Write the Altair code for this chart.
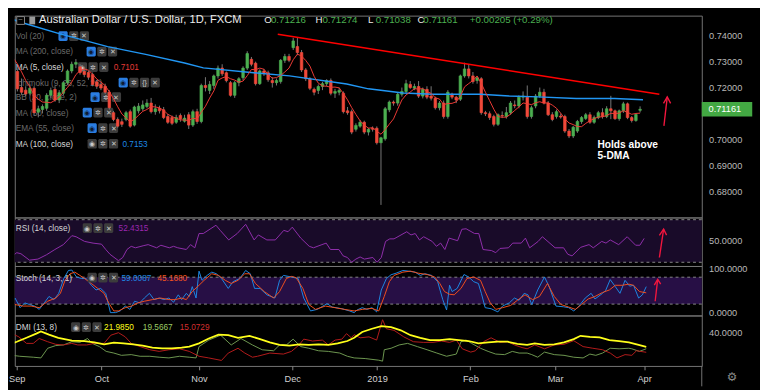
import altair as alt
import pandas as pd

FONT = "Liberation Sans"

# ---------------- price bars (bar index 0 = first bar of Sep) ----------------
bar_index = list(range(-5, 149))
bar_open = [.7330, .7335, .7340, .7300, .7262,
    .7200, .7190, .7178, .7197, .7105, .7115, .7120, .7170, .7193, .7152,
    .7178, .7219, .7264, .7290, .7280, .7262, .7258, .7250, .7222, .7212,
    .7205, .7182, .7103, .7077, .7068, .7077, .7107, .7055, .7110, .7118,
    .7127, .7140, .7107, .7120, .7114, .7088, .7084, .7066, .7092, .7070,
    .7095, .7055, .7107, .7069, .7208, .7189, .7208, .7245, .7275, .7257,
    .7219, .7170, .7219, .7238, .7275, .7309, .7294, .7215, .7264, .7257,
    .7227, .7219, .7223, .7305, .7320, .7354, .7358, .7335, .7268, .7234,
    .7193, .7189, .7204, .7215, .7227, .7178, .7182, .7178, .7110, .7107,
    .7039, .7051, .7066, .7028, .7043, .7043, .6987, .7002, .7114, .7144,
    .7140, .7174, .7185, .7212, .7197, .7204, .7167, .7193, .7167, .7159,
    .7122, .7140, .7088, .7174, .7163, .7155, .7245, .7272, .7245, .7227,
    .7234, .7103, .7099, .7088, .7058, .7092, .7088, .7103, .7133, .7129,
    .7163, .7163, .7088, .7129, .7167, .7182, .7140, .7095, .7088, .7090,
    .7088, .7032, .7013, .7032, .7069, .7081, .7095, .7066, .7084, .7103,
    .7088, .7118, .7110, .7080, .7110, .7137, .7084, .7073, .7112]
bar_high = [.7345, .7350, .7345, .7325, .7270,
    .7235, .7205, .7212, .7205, .7130, .7135, .7178, .7200, .7205, .7190,
    .7225, .7270, .7300, .7310, .7290, .7270, .7265, .7258, .7230, .7220,
    .7215, .7190, .7110, .7085, .7080, .7110, .7115, .7130, .7140, .7150,
    .7155, .7160, .7135, .7130, .7125, .7098, .7092, .7095, .7100, .7095,
    .7105, .7115, .7118, .7215, .7240, .7225, .7250, .7285, .7290, .7262,
    .7225, .7225, .7240, .7282, .7340, .7318, .7300, .7270, .7272, .7265,
    .7240, .7235, .7310, .7330, .7330, .7392, .7395, .7345, .7275, .7240,
    .7200, .7212, .7222, .7232, .7235, .7195, .7200, .7185, .7125, .7115,
    .7062, .7075, .7072, .7045, .7050, .7050, .7010, .7125, .7150, .7150,
    .7180, .7200, .7230, .7225, .7215, .7225, .7200, .7205, .7205, .7165,
    .7148, .7150, .7190, .7180, .7168, .7250, .7296, .7290, .7260, .7245,
    .7240, .7110, .7108, .7095, .7100, .7108, .7125, .7148, .7150, .7170,
    .7185, .7208, .7130, .7175, .7200, .7195, .7148, .7105, .7115, .7100,
    .7095, .7040, .7052, .7075, .7090, .7102, .7105, .7092, .7110, .7120,
    .7128, .7168, .7115, .7115, .7145, .7142, .7090, .7100, .71274]
bar_low = [.7320, .7325, .7310, .7258, .7185,
    .7172, .7165, .7170, .7095, .7085, .7100, .7110, .7160, .7145, .7140,
    .7170, .7210, .7255, .7275, .7250, .7240, .7230, .7205, .7195, .7190,
    .7175, .7115, .7070, .7045, .7048, .7070, .7045, .7050, .7100, .7110,
    .7120, .7100, .7095, .7100, .7078, .7060, .7055, .7060, .7068, .7065,
    .7040, .7048, .7060, .7062, .7185, .7175, .7195, .7235, .7245, .7220,
    .7165, .7160, .7205, .7228, .7268, .7282, .7208, .7210, .7245, .7222,
    .7200, .7208, .7215, .7295, .7298, .7345, .7325, .7260, .7225, .7190,
    .7170, .7175, .7190, .7205, .7170, .7160, .7170, .7100, .7095, .7020,
    .7030, .7045, .7020, .7015, .7030, .6980, .6747, .6995, .7105, .7130,
    .7130, .7165, .7178, .7195, .7190, .7160, .7158, .7155, .7150, .7115,
    .7112, .7080, .7080, .7155, .7140, .7148, .7238, .7235, .7215, .7215,
    .7095, .7090, .7075, .7050, .7052, .7082, .7080, .7095, .7120, .7120,
    .7150, .7080, .7080, .7120, .7160, .7135, .7090, .7070, .7080, .7080,
    .7025, .7005, .7005, .7025, .7060, .7075, .7060, .7060, .7078, .7080,
    .7082, .7078, .7075, .7072, .7102, .7078, .7065, .7068, .71038]
bar_close = [.7335, .7340, .7320, .7265, .7195,
    .7182, .7175, .7197, .7103, .7118, .7127, .7170, .7189, .7152, .7180,
    .7219, .7264, .7290, .7297, .7258, .7250, .7240, .7212, .7205, .7198,
    .7182, .7122, .7077, .7051, .7058, .7103, .7051, .7125, .7128, .7133,
    .7140, .7107, .7118, .7110, .7084, .7066, .7062, .7084, .7080, .7082,
    .7055, .7107, .7069, .7208, .7200, .7212, .7245, .7275, .7253, .7227,
    .7170, .7219, .7234, .7275, .7331, .7290, .7215, .7264, .7253, .7230,
    .7219, .7227, .7305, .7320, .7305, .7380, .7335, .7268, .7234, .7197,
    .7182, .7204, .7215, .7227, .7178, .7185, .7189, .7107, .7103, .7028,
    .7054, .7066, .7028, .7039, .7039, .6987, .7006, .7118, .7144, .7140,
    .7174, .7185, .7215, .7200, .7204, .7167, .7193, .7163, .7159, .7122,
    .7140, .7088, .7182, .7163, .7152, .7245, .7272, .7245, .7223, .7238,
    .7103, .7099, .7084, .7058, .7095, .7090, .7103, .7140, .7130, .7163,
    .7167, .7088, .7122, .7167, .7182, .7140, .7095, .7077, .7107, .7086,
    .7032, .7013, .7047, .7069, .7084, .7095, .7066, .7084, .7103, .7088,
    .7118, .7110, .7080, .7110, .7137, .7084, .7073, .7096, .71161]

# 100-day MA
ma100_x = [-2.3, 0, 9.2, 20.6, 29.7, 39, 43.5, 54.9, 64.1, 77.8, 83, 91.3, 98.4, 109.8, 116.7, 123.6, 132.7, 141.9, 148.7]
ma100_v = [.7464, .7451, .7407, .7358, .7328, .7295, .7276, .7258, .7245, .7214, .7195, .7179, .7174, .7174, .7167, .7164, .7158, .7158, .7153]

# RSI (14)
rsi_x = [-2, -1, 0, 1, 3, 5, 7, 9, 11, 13, 14, 16, 18, 20, 21, 22, 24, 25, 26, 27, 28, 30, 31, 33, 34, 36, 37, 38, 40, 41,
         42, 43, 44, 47, 48, 50, 52, 54, 56, 57, 59, 61, 63, 64, 65, 67, 69, 70, 72, 73, 74, 76, 77, 78, 79, 80, 81, 82, 84, 85,
         86, 87, 88, 89, 92, 93, 94, 95, 96, 98, 99, 100, 101, 102, 104, 105, 106, 108, 109, 110, 112, 113, 114, 116, 117, 119, 120, 121, 123, 124,
         127, 129, 130, 131, 133, 135, 136, 138, 139, 140, 142, 144, 146, 147, 148]
rsi_v = [39, 36, 39, 38, 32, 33, 37, 42, 46.6, 55, 54, 49.6, 48, 47, 42, 37.5, 31.5, 34.5, 42, 45, 43.6, 45.7, 46.6, 43.6, 46, 43.6, 45, 43.6, 42, 46.6,
         43.6, 57, 57, 64.8, 60, 51, 57, 65.7, 51, 55.7, 51, 51, 60, 58.7, 63, 52.7, 45, 43.6, 46.6, 48, 42, 42, 36, 34.5, 30, 33, 35, 33, 34.5, 30,
         34.5, 49.6, 52, 52, 58.7, 55.7, 57, 51, 54, 49.6, 45, 48, 42, 52.7, 50.3, 61, 61.5, 57, 57, 42, 41, 39, 43, 43.6, 48, 48, 52.7, 43.6, 49.6, 54,
         43.6, 43.6, 37.5, 36, 44, 46.6, 43.6, 49.6, 48, 51, 46.6, 54, 46, 46, 52.43]

# Stochastic (14, 3, 1): %K and %D
stk_x = [-2.3, -1.4, -0.4, 0.8, 1.9, 3.0, 4.2, 5.3, 6.5, 7.6, 8.8, 9.9, 11.1, 12.2, 13.0, 14.1, 15.3, 16.4, 17.6, 18.7,
         19.8, 21.0, 22.1, 23.3, 24.4, 25.6, 26.7, 27.8, 29.0, 30.1, 31.3, 32.4, 33.6, 34.7, 35.9, 37.0, 38.1, 38.9, 40.0, 40.7,
         41.4, 42.3, 43.0, 43.7, 44.9, 46.0, 47.1, 48.3, 49.9, 51.0, 52.6, 54.0, 55.1, 56.1, 57.4, 59.0, 60.9, 62.0, 62.9, 64.8,
         66.4, 67.7, 69.3, 70.9, 73.2, 74.4, 76.7, 78.5, 79.6, 80.3, 81.5, 82.6, 83.8, 84.9, 86.0, 87.2, 88.3, 89.5, 91.1, 92.4,
         94.0, 95.2, 96.3, 97.9, 99.3, 100.5, 101.4, 102.1, 102.7, 103.9, 105.5, 106.6, 107.8, 108.9, 109.6, 110.5, 111.9, 113.5, 114.6, 116.2,
         117.4, 118.5, 119.7, 120.6, 121.5, 122.9, 124.5, 125.6, 127.2, 129.0, 130.2, 131.4, 132.5, 134.1, 135.5, 136.4, 138.2, 138.9, 140.0, 141.2,
         142.3, 143.5, 144.6, 145.5, 146.7, 147.6, 148.5]
stk_v = [44, 19, 33.5, 12, 22.7, 19, 15.6, 8.2, 22.7, 37, 30, 44, 77, 95, 96, 80.5, 77, 77, 62, 51.5,
         55, 44, 1, 1, 4.8, 15.6, 8.2, 26.4, 22.7, 33.5, 44, 30, 33.5, 30, 33.5, 24.2, 40.7, 30, 44, 37,
         59, 33.5, 93.5, 73, 84, 91.3, 87.7, 77, 55, 70, 77, 95, 87.7, 55, 55, 40.7, 33.5, 73, 84, 80.5,
         77, 33.5, 4.8, 8.2, 21, 13.4, 9.7, 4.8, 1, 7, 12, 8.2, 12, 2.6, 51.5, 77, 85.5, 89, 95, 93.5,
         91.3, 84, 87.7, 84, 70, 30, 7, 62, 48, 55, 86, 80.5, 70, 66, 44, 12, 9.7, 2.6, 15.6, 22.7,
         33.5, 28.5, 44, 40.7, 19, 51.5, 80.5, 59, 15.6, 14, 12, 4.8, 14, 33.5, 44, 31.4, 44, 50, 74.7, 59,
         44, 73, 60, 62, 33.5, 40.7, 59]
std_x = [-2.3, -0.4, 1.5, 3.4, 5.3, 7.3, 9.2, 10.3, 11.4, 12.6, 13.7, 14.9, 16.0, 17.6, 19.1, 20.6, 21.7, 22.9, 24.0, 25.6,
         27.1, 28.6, 30.1, 32.0, 33.9, 35.9, 37.4, 38.9, 40.0, 41.4, 43.0, 44.2, 46.0, 47.6, 49.2, 50.6, 52.2, 53.8, 54.9, 56.3,
         58.4, 60.6, 62.0, 63.6, 64.8, 65.9, 67.5, 68.9, 70.5, 72.8, 75.1, 77.3, 79.6, 81.5, 83.8, 85.4, 86.7, 87.9, 89.0, 91.1,
         92.9, 94.7, 96.8, 98.6, 99.8, 100.9, 102.1, 103.2, 104.8, 106.2, 107.8, 109.4, 110.5, 111.7, 113.0, 114.6, 116.5, 118.1, 119.9, 121.7,
         123.3, 125.2, 126.8, 128.4, 130.2, 131.8, 133.2, 134.8, 136.4, 138.2, 139.8, 141.2, 142.8, 144.4, 145.5, 146.9, 148.5]
std_v = [37, 19, 15.6, 15.6, 12, 26.4, 33.5, 44, 73, 87.7, 91.3, 84, 77, 66, 55, 44, 22.7, 4.8, 4.8, 12,
         15.6, 22.7, 26.4, 30, 33.5, 30, 30, 33.5, 30, 48, 62, 73, 87.7, 84, 73, 66, 73, 87.7, 87.7, 66,
         48, 33.5, 48, 77, 81.8, 79, 55, 19, 8.2, 15.6, 12, 8.2, 4.8, 8.2, 10.4, 4.8, 37, 70, 84, 91.3,
         93.5, 89, 86, 80.5, 66, 48, 42, 40.7, 55, 77, 80.5, 73, 48, 22.7, 8.2, 12, 17, 28.5, 40.7, 30,
         37, 66, 37, 19, 13.4, 8.2, 19, 31.4, 37, 46, 51.5, 62, 62, 64.5, 62, 48, 45.17]

# DMI (13, 8): ADX, +DI, -DI
adx_x = [-2.3, 0, 2.3, 4.6, 5.7, 7.6, 9.8, 13, 16, 18.3, 20.6, 22.9, 25.2, 27.5, 29.7, 32, 34.3, 36.6, 38.9, 40.7,
         43, 45.3, 47.6, 49.9, 52.2, 54.9, 57.4, 59.7, 62, 64.3, 66.6, 68.9, 71.2, 73.5, 75.7, 78, 79.6, 81.5, 83.8, 86,
         88.3, 90.6, 92.9, 95.2, 97.5, 99.8, 102.1, 104.3, 106.6, 108.9, 111.2, 113.5, 115.8, 118.1, 120.4, 122.2, 124.5, 126.8, 129.1, 131.4,
         133, 135.2, 137.5, 139.8, 142.1, 144.4, 146.7, 148.5]
adx_v = [24, 28.5, 33.5, 38.8, 41.7, 37.5, 33.5, 29.8, 29.4, 27.7, 25.2, 27.3, 26.4, 25.2, 23.6, 21.1, 20.2, 20.2, 21.1, 22.3,
         26.4, 32.6, 37.5, 36.8, 33.5, 36, 31.8, 27.7, 24.4, 23.6, 25.2, 24.4, 25.2, 24.4, 26.4, 29.4, 33.5, 40.9, 45, 48.3,
         47, 43, 36.8, 33.5, 30.6, 30.6, 31.8, 30.6, 29.4, 26.4, 27.7, 28.5, 28.5, 25.7, 24.4, 26.4, 24.4, 25.2, 27.7, 31.8,
         36, 34.7, 33.9, 30.6, 29.4, 27.7, 24.4, 21.985]
mdi_x = [-2.3, -1.1, 0.5, 2.3, 3.9, 5.3, 7.3, 9.2, 11, 13, 14.4, 16.5, 18.3, 20.6, 22.2, 24, 25.6, 27, 29.1, 31.4,
         33.6, 35.9, 38.4, 40.7, 43, 45.3, 48.3, 49.9, 52.2, 53.8, 55.6, 56.8, 59.7, 62.9, 64.8, 66.6, 67.7, 69.8, 72.1, 73.5,
         75.1, 76.7, 77.8, 78.9, 79.6, 81, 83.1, 84.9, 86.3, 87.2, 89, 91.3, 93.6, 95.9, 98.2, 100.2, 102.1, 103.7, 105.1, 107.1,
         108.2, 110.1, 111.9, 114, 115.8, 117.4, 119.2, 120.4, 122.2, 124.5, 126.8, 129.1, 131.4, 133.6, 135.9, 138.2, 140, 141.6, 143.5, 145.1,
         146.2, 148.5]
mdi_v = [34.7, 38.8, 34.7, 26.4, 26.4, 32.6, 28.5, 25.2, 24.4, 26.4, 24.4, 24.4, 26.4, 26.4, 36.8, 40, 34.7, 26.4, 22.3, 18.3,
         16.2, 18.3, 19.5, 16.2, 10, 7.9, 4.7, 14.1, 20.2, 14.1, 8.8, 10, 14.1, 12.8, 16.2, 24.4, 31.8, 29.4, 30.6, 24.4,
         30.6, 31.8, 38.8, 33.5, 37.5, 33.5, 34.7, 30.6, 56.5, 45, 43, 34.7, 28.5, 27.7, 27.7, 29.4, 27.7, 30.6, 19.5, 15.3,
         17, 28.5, 33.5, 27.7, 28.5, 24.4, 21.1, 19.5, 24.4, 19.5, 24.4, 25.2, 29.8, 22.3, 20.2, 18.3, 14.1, 7.9, 12.1, 11.2,
         17, 15.07]
pdi_x = [-2.3, 0.7, 3.9, 5.7, 7.3, 9.2, 11, 13, 14.9, 16.7, 17.8, 19.5, 21.1, 22.9, 24.7, 27, 29.1, 31.4, 33.6, 35.9,
         38.4, 40.7, 42.3, 43, 45.3, 48.1, 50.6, 52.9, 55.6, 57.9, 60.6, 62, 63.6, 65.2, 67, 68.9, 71.2, 73.5, 76.2, 78,
         79.6, 82.2, 85.4, 86.3, 86.7, 88.3, 90.2, 92.2, 94.5, 96.8, 99.1, 101.4, 103.7, 104.8, 106, 107.3, 109.4, 111.2, 113, 115.1,
         116.9, 118.5, 120.4, 121.5, 122.9, 124.5, 126.8, 129.1, 131.4, 133.6, 135.2, 136.6, 138.2, 140, 142.1, 144.4, 145.1, 146.9, 148.5]
pdi_v = [12.1, 10, 8.8, 7.9, 20.2, 23.6, 24.4, 28.5, 27.7, 32.6, 26.4, 22.3, 16.2, 14.1, 11.2, 12.1, 10, 10, 8.8, 7.9,
         10, 8.8, 7.9, 22.3, 30.6, 36.8, 24.4, 32.6, 24.4, 18.3, 17, 24.4, 24.4, 31.8, 22.3, 20.2, 17, 16.2, 14.1, 10,
         7.9, 7.1, 5, 3.8, 18.3, 20.2, 24.4, 26.4, 22.3, 18.3, 14.1, 10, 12.8, 28.5, 30.6, 26.4, 20.2, 16.2, 12.8, 12.1,
         16.2, 14.1, 14.1, 12.1, 8.8, 15.3, 12.1, 11.2, 8.8, 7.9, 12.8, 11.2, 14.1, 20.2, 19.5, 20.2, 19.5, 16.2, 19.57]

# drawings
trend_x = [61.3, 152.6]
trend_v = [0.7406, 0.7174]
arrow_p_shaft_x, arrow_p_shaft_v = [153.7, 154.5], [0.7052, 0.7164]
arrow_p_head_x, arrow_p_head_v = [153.6, 154.5, 155.3], [0.7139, 0.7164, 0.7139]
arrow_r_shaft_x, arrow_r_shaft_v = [151.6, 152.6], [34.5, 61.2]
arrow_r_head_x, arrow_r_head_v = [151.6, 152.6, 153.3], [55.3, 61.2, 55.5]
arrow_s_shaft_x, arrow_s_shaft_v = [150.6, 151.2], [26.4, 75.3]
arrow_s_head_x, arrow_s_head_v = [150.4, 151.2, 151.9], [62.3, 75.3, 64.5]

month_idx = [0, 20, 43, 65, 85, 107, 127, 148]
month_lbl = ["Sep", "Oct", "Nov", "Dec", "2019", "Feb", "Mar", "Apr"]
price_ticks = [0.68, 0.69, 0.70, 0.72, 0.73, 0.74]
last_close = 0.71161

# ---------------- styling ----------------
# The page adds an 8px margin, so the plot starts 8px in; panels are sized so that
# their separators land where the reference has them.
OFF = 8
W = 708
HP, HR, HS, HD = 208, 50, 51, 52
P0, R0, S0, D0 = 8, 216, 266, 317          # panel tops in page pixels
XD = [-0.46, 161.6]
GREEN, RED, WICK = "#4caf50", "#f0493a", "#7a7a7a"
GREYTXT, WHITETXT = "#6b6b6b", "#d6d6d6"
AXLBL = "#b8b8b8"

xsc = alt.Scale(domain=XD, nice=False, zero=False)
ONE = pd.DataFrame({"k": [0]})


def px(x):
    return x - OFF


def text(s, x, y, color, size=8.5, weight="normal", align="left", font=FONT):
    return alt.Chart(ONE).mark_text(text=s, color=color, fontSize=size, fontWeight=weight,
                                    align=align, baseline="middle", font=font).encode(
        x=alt.value(x), y=alt.value(y))


def icons(x0, y, kinds):
    out = []
    for n, kind in enumerate(kinds):
        xa = px(x0 + n * 11)
        fill = "#2a7de1" if kind == "eyeb" else "#3c3c3c"
        out.append(alt.Chart(ONE).mark_rect(color=fill, cornerRadius=1.5).encode(
            x=alt.value(xa), x2=alt.value(xa + 9.5), y=alt.value(y - 5), y2=alt.value(y + 5)))
        glyph = {"eyeb": "◉", "eye": "◉", "gear": "✲", "x": "✕", "br": "{}"}[kind]
        out.append(text(glyph, xa + 4.75, y + 0.5, "#0d1a33" if kind == "eyeb" else "#c8c8c8", size=7, align="center"))
    return out


def yaxis(values, fmt):
    return alt.Axis(orient="right", values=values, format=fmt, title=None, grid=False, domain=False,
                    ticks=False, labelColor=AXLBL, labelFont=FONT, labelFontSize=9.5, labelPadding=7,
                    labelOverlap=False, labelBound=False)


def line_df(xv, yv):
    return pd.DataFrame({"i": xv, "v": yv})

# ---------------- price panel ----------------
ysc_p = alt.Scale(domain=[0.66985, 0.74775], nice=False, zero=False)
yax_p = yaxis(price_ticks, ".5f")
Xp = alt.X("i:Q", scale=xsc, axis=None)


def Yp(f):
    return alt.Y(f + ":Q", scale=ysc_p, axis=yax_p)

bars = pd.DataFrame({"i": bar_index, "o": bar_open, "h": bar_high, "l": bar_low, "c": bar_close})

price_layers = []
legend_rows = [
    ("Vol (20)", 29, GREYTXT, ["eyeb", "gear", "x"], 53, []),
    ("MA (200, close)", 45, GREYTXT, ["eyeb", "gear", "x"], 82, []),
    ("MA (5, close)", 61, WHITETXT, ["eye", "gear", "x"], 73, [("0.7101", 110, "#e53935")]),
    ("Ichimoku (9, 26, 52, 26)", 77, GREYTXT, ["eyeb", "gear", "br", "x"], 115, []),
    ("BB (20, close, 2)", 92, GREYTXT, ["eyeb", "gear", "x"], 86, []),
    ("MA (50, close)", 108, GREYTXT, ["eyeb", "gear", "x"], 78, []),
    ("EMA (55, close)", 124, GREYTXT, ["eyeb", "gear", "x"], 83, []),
    ("MA (100, close)", 140, WHITETXT, ["eye", "gear", "x"], 83, [("0.7153", 119, "#1e88e5")]),
]
for name, yy, col, kinds, ix, vals in legend_rows:
    y = yy - P0
    price_layers.append(text(name, px(9), y, col))
    price_layers += icons(ix, y, kinds)
    for vt, vx, vc in vals:
        price_layers.append(text(vt, px(vx), y, vc))

price_layers.append(alt.Chart(bars).transform_filter("datum.i >= -1").mark_rule(
    color=WICK, strokeWidth=1, clip=True).encode(x=Xp, y=Yp("l"), y2="h"))
body_col = alt.condition("datum.c >= datum.o", alt.value(GREEN), alt.value(RED))
price_layers.append(alt.Chart(bars).transform_filter("datum.i >= -1").mark_bar(
    size=2.6, strokeWidth=0.7, clip=True).encode(x=Xp, y=Yp("o"), y2="c", fill=body_col, stroke=body_col))
price_layers.append(alt.Chart(line_df(ma100_x, ma100_v)).mark_line(
    color="#2196f3", strokeWidth=1.5, clip=True).encode(x=Xp, y=Yp("v")))
price_layers.append(alt.Chart(bars).transform_window(
    ma="mean(c)", frame=[-4, 0], sort=[{"field": "i"}]).transform_filter("datum.i >= -3").mark_line(
    color="#ef3b36", strokeWidth=1, clip=True).encode(x=Xp, y=Yp("ma")))
price_layers.append(alt.Chart(line_df(trend_x, trend_v)).mark_line(
    color="#ff0000", strokeWidth=1.6).encode(x=Xp, y=Yp("v")))
price_layers.append(alt.Chart(line_df(arrow_p_shaft_x, arrow_p_shaft_v)).mark_line(
    color="#f2163e", strokeWidth=1.4).encode(x=Xp, y=Yp("v")))
price_layers.append(alt.Chart(line_df(arrow_p_head_x, arrow_p_head_v)).mark_line(
    color="#f2163e", strokeWidth=1.4).encode(x=Xp, y=Yp("v"), order="i:Q"))
ann = pd.DataFrame({"i": [137.8, 137.8], "v": [0.6979, 0.6937], "t": ["Holds above", "5-DMA"]})
price_layers.append(alt.Chart(ann).mark_text(
    color="#ffffff", fontSize=10.5, fontWeight="bold", align="left", baseline="middle", font=FONT).encode(
    x=Xp, y=Yp("v"), text="t:N"))
# header
hy = 12 - P0 + 1
price_layers.append(alt.Chart(ONE).mark_rect(fill="#000000", stroke="#8a8a8a", strokeWidth=1).encode(
    x=alt.value(px(10)), x2=alt.value(px(18)), y=alt.value(hy - 4), y2=alt.value(hy + 4)))
price_layers.append(text("−", px(14), hy, "#8a8a8a", size=8, align="center"))
price_layers.append(alt.Chart(ONE).mark_rect(fill="#9a9a9a").encode(
    x=alt.value(px(23)), x2=alt.value(px(29)), y=alt.value(hy - 4), y2=alt.value(hy + 4)))
price_layers.append(text("Australian Dollar / U.S. Dollar, 1D, FXCM", px(33), hy, "#ececec", size=11.5))
for s, xx, col in [("O", 265, "#ececec"), ("0.71216", 272, GREEN), ("H", 318, "#ececec"), ("0.71274", 325, GREEN),
                   ("L", 372, "#ececec"), ("0.71038", 380, GREEN), ("C", 423, "#ececec"), ("0.71161", 429, GREEN),
                   ("+0.00205 (+0.29%)", 477, GREEN)]:
    price_layers.append(text(s, px(xx), hy, col, size=10))
# last price tag
tag = pd.DataFrame({"v": [last_close], "t": ["0.71161"]})
price_layers.append(alt.Chart(tag).mark_rule(color="#43a843", strokeWidth=15).encode(
    y=Yp("v"), x=alt.value(W), x2=alt.value(W + 52)))
price_layers.append(alt.Chart(tag).mark_text(color="#ffffff", fontSize=9.5, align="left", baseline="middle",
                                             font=FONT).encode(y=Yp("v"), x=alt.value(W + 7), text="t:N"))

price = alt.layer(*price_layers).properties(width=W, height=HP)

# ---------------- RSI panel ----------------
ysc_r = alt.Scale(domain=[26.5, 72.1], nice=False, zero=False)
yax_r = yaxis([50], ".4f")


def Yr(f):
    return alt.Y(f + ":Q", scale=ysc_r, axis=yax_r)

rsi_layers = [
    alt.Chart(pd.DataFrame({"lo": [30], "hi": [70]})).mark_rect(color="#190b29").encode(
        x=alt.value(0), x2=alt.value(W), y=Yr("lo"), y2="hi"),
    alt.Chart(pd.DataFrame({"v": [30, 70]})).mark_rule(color="#8a8a8a", strokeDash=[3, 3], strokeWidth=1).encode(y=Yr("v")),
    alt.Chart(line_df(rsi_x, rsi_v)).mark_line(color="#9230ad", strokeWidth=1, clip=True).encode(x=Xp, y=Yr("v")),
    alt.Chart(line_df(arrow_r_shaft_x, arrow_r_shaft_v)).mark_line(color="#f2163e", strokeWidth=1.4).encode(x=Xp, y=Yr("v")),
    alt.Chart(line_df(arrow_r_head_x, arrow_r_head_v)).mark_line(color="#f2163e", strokeWidth=1.4).encode(x=Xp, y=Yr("v"), order="i:Q"),
]
ry = 227 - R0
rsi_layers.append(text("RSI (14, close)", px(9), ry, WHITETXT))
rsi_layers += icons(78, ry, ["eye", "gear", "x"])
rsi_layers.append(text("52.4315", px(115), ry, "#9c27b0"))
rsi = alt.layer(*rsi_layers).properties(width=W, height=HR)

# ---------------- Stoch panel ----------------
ysc_s = alt.Scale(domain=[-5.4, 105], nice=False, zero=False)
yax_s = yaxis([0, 100], ".4f")


def Ys(f):
    return alt.Y(f + ":Q", scale=ysc_s, axis=yax_s)

sto_layers = [
    alt.Chart(pd.DataFrame({"lo": [20], "hi": [80]})).mark_rect(color="#270f45").encode(
        x=alt.value(0), x2=alt.value(W), y=Ys("lo"), y2="hi"),
    alt.Chart(pd.DataFrame({"v": [20, 80]})).mark_rule(color="#8a8a8a", strokeDash=[3, 3], strokeWidth=1).encode(y=Ys("v")),
    alt.Chart(line_df(stk_x, stk_v)).mark_line(color="#1e88e5", strokeWidth=1, clip=True).encode(x=Xp, y=Ys("v")),
    alt.Chart(line_df(std_x, std_v)).mark_line(color="#f4511e", strokeWidth=1, clip=True).encode(x=Xp, y=Ys("v")),
    alt.Chart(line_df(arrow_s_shaft_x, arrow_s_shaft_v)).mark_line(color="#f2163e", strokeWidth=1.4).encode(x=Xp, y=Ys("v")),
    alt.Chart(line_df(arrow_s_head_x, arrow_s_head_v)).mark_line(color="#f2163e", strokeWidth=1.4).encode(x=Xp, y=Ys("v"), order="i:Q"),
]
sy = 278 - S0
sto_layers.append(text("Stoch (14, 3, 1)", px(9), sy, WHITETXT))
sto_layers += icons(83, sy, ["eye", "gear", "x"])
sto_layers.append(text("59.0087", px(118), sy, "#1e88e5"))
sto_layers.append(text("45.1680", px(155), sy, "#f4511e"))
sto = alt.layer(*sto_layers).properties(width=W, height=HS)

# ---------------- DMI panel ----------------
ysc_d = alt.Scale(domain=[-2.3, 61.9], nice=False, zero=False)
yax_d = yaxis([40], ".4f")
label_expr = " : ".join("datum.value == %d ? '%s'" % (i, l) for i, l in zip(month_idx, month_lbl)) + " : ''"
Xb = alt.X("i:Q", scale=xsc, axis=alt.Axis(values=month_idx, labelExpr=label_expr, title=None, grid=False,
                                           domain=False, ticks=True, tickSize=4, tickColor="#8a8a8a",
                                           labelColor="#d0d0d0", labelFont=FONT, labelFontSize=9.5,
                                           labelPadding=4, labelFlush=False, labelOverlap=False))


def Yd(f):
    return alt.Y(f + ":Q", scale=ysc_d, axis=yax_d)

dmi_layers = [
    alt.Chart(line_df(pdi_x, pdi_v)).mark_line(color="#6f9a52", strokeWidth=1, clip=True).encode(x=Xb, y=Yd("v")),
    alt.Chart(line_df(mdi_x, mdi_v)).mark_line(color="#b71c1c", strokeWidth=1, clip=True).encode(x=Xb, y=Yd("v")),
    alt.Chart(line_df(adx_x, adx_v)).mark_line(color="#ffff1a", strokeWidth=1.8, clip=True).encode(x=Xb, y=Yd("v")),
]
dy = 329 - D0
dmi_layers.append(text("DMI (13, 8)", px(9), dy, WHITETXT))
dmi_layers += icons(66, dy, ["eye", "gear", "x"])
dmi_layers.append(text("21.9850", px(100), dy, "#ffff1a"))
dmi_layers.append(text("19.5667", px(140), dy, "#9ccc65"))
dmi_layers.append(text("15.0729", px(178), dy, "#d32f2f"))
# right-hand scale separator continuing through the date row, and the settings glyph
dmi_layers.append(alt.Chart(ONE).mark_rule(color="#777777", strokeWidth=1).encode(
    x=alt.value(W), y=alt.value(HD), y2=alt.value(HD + 21)))
dmi_layers.append(text("⚙", W + 31, HD + 12, "#8a8a8a", size=12, align="center", font="DejaVu Sans"))
dmi = alt.layer(*dmi_layers).properties(width=W, height=HD)

chart = alt.vconcat(price, rsi, sto, dmi, spacing=0, bounds="flush").properties(
    padding={"left": 0, "top": 0, "right": 0, "bottom": 0}
).configure(background="#000000").configure_view(stroke="#777777", strokeWidth=1)

chart.save("out.html", embed_options={"renderer": "svg", "actions": False})
